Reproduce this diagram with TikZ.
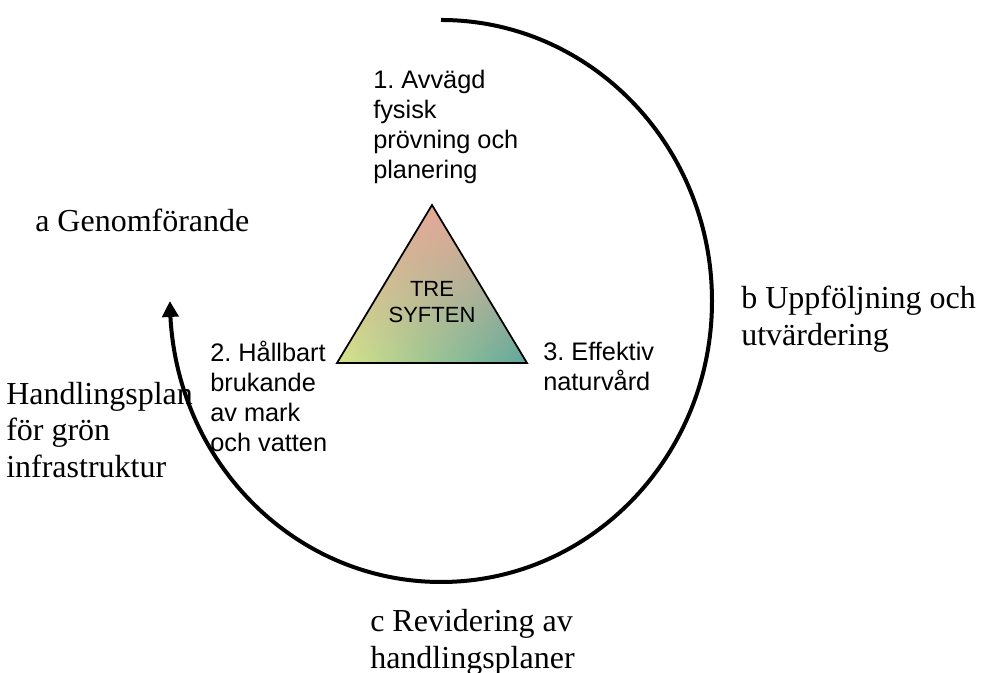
\documentclass[tikz,border=0pt]{standalone}
\usepackage{fontspec}
\setmainfont{Liberation Serif}
\newfontfamily\arialfont{Liberation Sans}
\usepackage{tikz}
\usetikzlibrary{calc, arrows.meta, bending, fadings}
\tikzset{>=latex}
\frenchspacing
\definecolor{toppink}{HTML}{E6A898}
\definecolor{leftgreen}{HTML}{D8E48A}
\definecolor{rightteal}{HTML}{5FA89E}
\tikzset{
  syfte/.style={anchor=west, inner sep=0pt, align=left, font=\arialfont\fontsize{19}{22.5}\selectfont},
  steg/.style={anchor=west, inner sep=0pt, align=left, font=\fontsize{24}{27.6}\selectfont},
  cykel/.style={line width=3pt, -{Triangle[length=12pt, width=12pt, bend]}}
}

\begin{document}
\begin{tikzpicture}
[x=0.75pt, y=0.75pt]
\useasboundingbox (0,0) rectangle (983,673);
\coordinate (topp) at (432,468);
\coordinate (vbas) at (337,310);
\coordinate (hbas) at (527,310);
\shade[left color=leftgreen, right color=rightteal] (topp) -- (vbas) -- (hbas) -- cycle;
\fill[toppink, path fading=south] (topp) -- (vbas) -- (hbas) -- cycle;
\draw[line width=1.3pt, line join=miter] (topp) -- (vbas) -- (hbas) -- cycle;
\node[align=center, inner sep=0pt, font=\arialfont\fontsize{16.5}{19}\selectfont] (tre) at (432,371) {TRE\\SYFTEN};

\node[syfte] (avvagd) at (373,546) {1. Avvägd\\fysisk\\prövning och\\planering};
\node[syfte] (hallbart) at (210,277) {2. Hållbart\\brukande\\av mark\\och vatten};
\node[syfte] (effektiv) at (543,307) {3. Effektiv\\naturvård};

\node[steg] (genom) at (35,453) {a Genomförande};
\node[steg] (uppf) at (741,354) {b Uppföljning och\\utvärdering};
\node[steg] (revid) at (370,31) {c Revidering av\\handlingsplaner};
\node[steg] (handl) at (6,243) {Handlingsplan\\för grön\\infrastruktur};

\coordinate (arcstart) at (441,653);
\draw[cykel] (arcstart) arc[start angle=90, end angle=-180, x radius=203.25pt, y radius=210.75pt];
\end{tikzpicture}
\end{document}
